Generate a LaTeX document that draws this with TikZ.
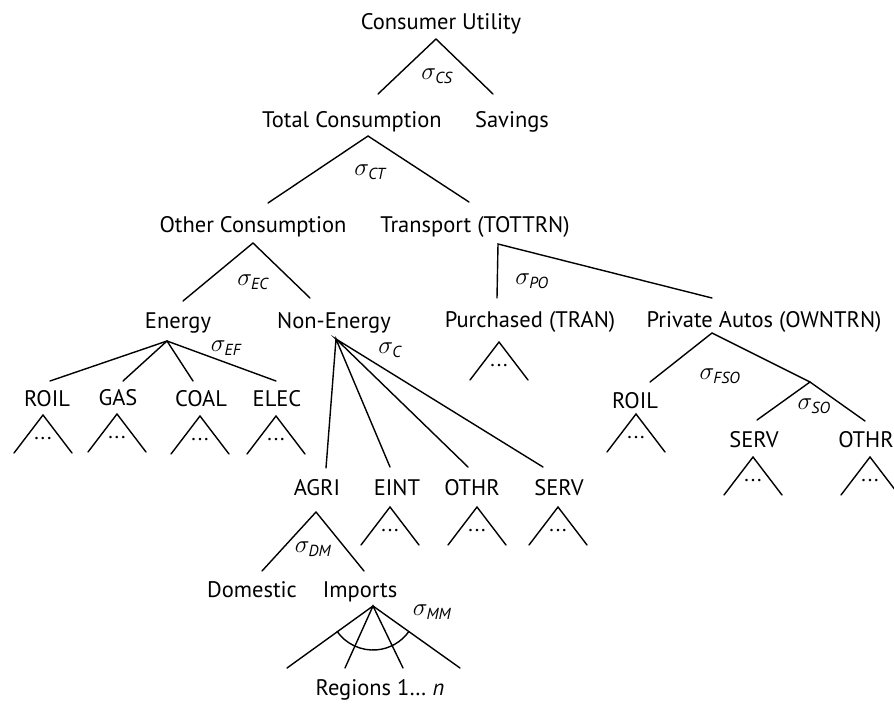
\documentclass[tikz,border=0pt]{standalone}
\usepackage{fontspec}
\setmainfont{PT Sans}
\usetikzlibrary{calc}
\begin{document}
\begin{tikzpicture}[x=1pt,y=-1pt,
  lbl/.style={anchor=base,inner sep=0pt,font=\fontsize{22.5}{24}\selectfont},
  sig/.style={inner sep=0pt,font=\fontsize{29}{30}\selectfont},
  ln/.style={line width=1.4pt,line cap=round},
  dts/.style={inner sep=0pt,font=\fontsize{21}{22}\selectfont}]
\useasboundingbox (0,0) rectangle (894,705);
\newcommand{\sg}[1]{$\sigma_{\textit{\fontsize{16}{17}\selectfont #1}}$}
% small triangle macro: name, apex x, apex y
\newcommand{\tri}[3]{%
  \coordinate (#1a) at (#2,#3);
  \coordinate (#1l) at ($(#1a)+(-29,38)$);
  \coordinate (#1r) at ($(#1a)+(29,38)$);
  \draw[ln] (#1l) -- (#1a) -- (#1r);
  \node[dts] (#1d) at ($(#1a)+(0,24)$) {.\kern2pt.\kern2pt.};}
% texts
\node[lbl] (cu) at (441,29) {Consumer Utility};
\node[lbl] (tc) at (352,127) {Total Consumption};
\node[lbl] (sav) at (512,127) {Savings};
\node[lbl] (oc) at (253,232) {Other Consumption};
\node[lbl] (tr) at (475,232) {Transport (TOTTRN)};
\node[lbl] (en) at (178,328) {Energy};
\node[lbl] (ne) at (334,328) {Non-Energy};
\node[lbl] (pu) at (530,327) {Purchased (TRAN)};
\node[lbl] (pa) at (764,327) {Private Autos (OWNTRN)};
\node[lbl] (roil) at (47,406) {ROIL};
\node[lbl] (gas) at (118,405) {GAS};
\node[lbl] (coal) at (201,406) {COAL};
\node[lbl] (elec) at (277,406) {ELEC};
\node[lbl] (agri) at (317,495) {AGRI};
\node[lbl] (eint) at (397,495) {EINT};
\node[lbl] (othr) at (472,495) {OTHR};
\node[lbl] (serv) at (559,495) {SERV};
\node[lbl] (roilb) at (635,408) {ROIL};
\node[lbl] (servb) at (754,447) {SERV};
\node[lbl] (othrb) at (866,447) {OTHR};
\node[lbl] (dom) at (252,597) {Domestic};
\node[lbl] (imp) at (360,597) {Imports};
\node[lbl] (reg) at (380,695) {Regions 1\ldots\ \textit{n}};
% sigma labels
\node[sig] (scs) at (437,76) {\sg{CS}};
\node[sig] (sct) at (370,172) {\sg{CT}};
\node[sig] (sec) at (253,282) {\sg{EC}};
\node[sig] (sef) at (226,348) {\sg{EF}};
\node[sig] (sc) at (390,350) {\sg{C}};
\node[sig] (spo) at (532,281) {\sg{PO}};
\node[sig] (sfso) at (720,376) {\sg{FSO}};
\node[sig] (sso) at (814,406) {\sg{SO}};
\node[sig] (sdm) at (313,549) {\sg{DM}};
\node[sig] (smm) at (432,612) {\sg{MM}};
% coordinates
\coordinate (cuA) at (436,39);
\coordinate (tcT) at (378,94);
\coordinate (savT) at (493,94);
\coordinate (tcA) at (368,136);
\coordinate (ocT) at (268,203);
\coordinate (trT) at (469,202);
\coordinate (ocA) at (253,243);
\coordinate (enT) at (183,301);
\coordinate (neT) at (310,298);
\coordinate (enA) at (167,341);
\coordinate (roilT) at (50,381);
\coordinate (gasT) at (123,381);
\coordinate (coalT) at (193,381);
\coordinate (elecT) at (276,381);
\coordinate (neA) at (336,339);
\coordinate (agriT) at (326,468);
\coordinate (eintT) at (390,467);
\coordinate (othrT) at (468,467);
\coordinate (servT) at (543,467);
\coordinate (trA) at (498,244);
\coordinate (puT) at (497,298);
\coordinate (paT) at (712,298);
\coordinate (paA) at (712,333);
\coordinate (roilbT) at (650,382);
\coordinate (soA) at (810,382);
\coordinate (servbT) at (757,420);
\coordinate (othrbT) at (865,421);
\coordinate (agA) at (316,512);
\coordinate (domT) at (262,571);
\coordinate (impT) at (364,571);
\coordinate (imA) at (373,606);
\coordinate (r1) at (287,668);
\coordinate (r2) at (345,668);
\coordinate (r3) at (403,668);
\coordinate (r4) at (460,668);
% lines
\draw[ln] (tcT) -- (cuA) -- (savT);
\draw[ln] (ocT) -- (tcA) -- (trT);
\draw[ln] (enT) -- (ocA) -- (neT);
\draw[ln] (roilT) -- (enA) -- (elecT);
\draw[ln] (gasT) -- (enA) -- (coalT);
\draw[ln] (agriT) -- (neA) -- (eintT);
\draw[ln] (othrT) -- (neA) -- (servT);
\draw[ln] (puT) -- (trA) -- (paT);
\draw[ln] (roilbT) -- (paA) -- (soA) -- (othrbT);
\draw[ln] (soA) -- (servbT);
\draw[ln] (domT) -- (agA) -- (impT);
\draw[ln] (r1) -- (imA) -- (r4);
\draw[ln] (r2) -- (imA) -- (r3);
\draw[line width=1.4pt] ($(imA)+(145:44)$) arc[start angle=145,end angle=35,radius=44];
% small triangles
\tri{t1}{43}{415}
\tri{t2}{117}{414}
\tri{t3}{200}{416}
\tri{t4}{276}{416}
\tri{t5}{390}{507}
\tri{t6}{477}{507}
\tri{t7}{558}{507}
\tri{t8}{499}{342}
\tri{t9}{636}{414}
\tri{t10}{753}{457}
\tri{t11}{870}{457}
\end{tikzpicture}
\end{document}
